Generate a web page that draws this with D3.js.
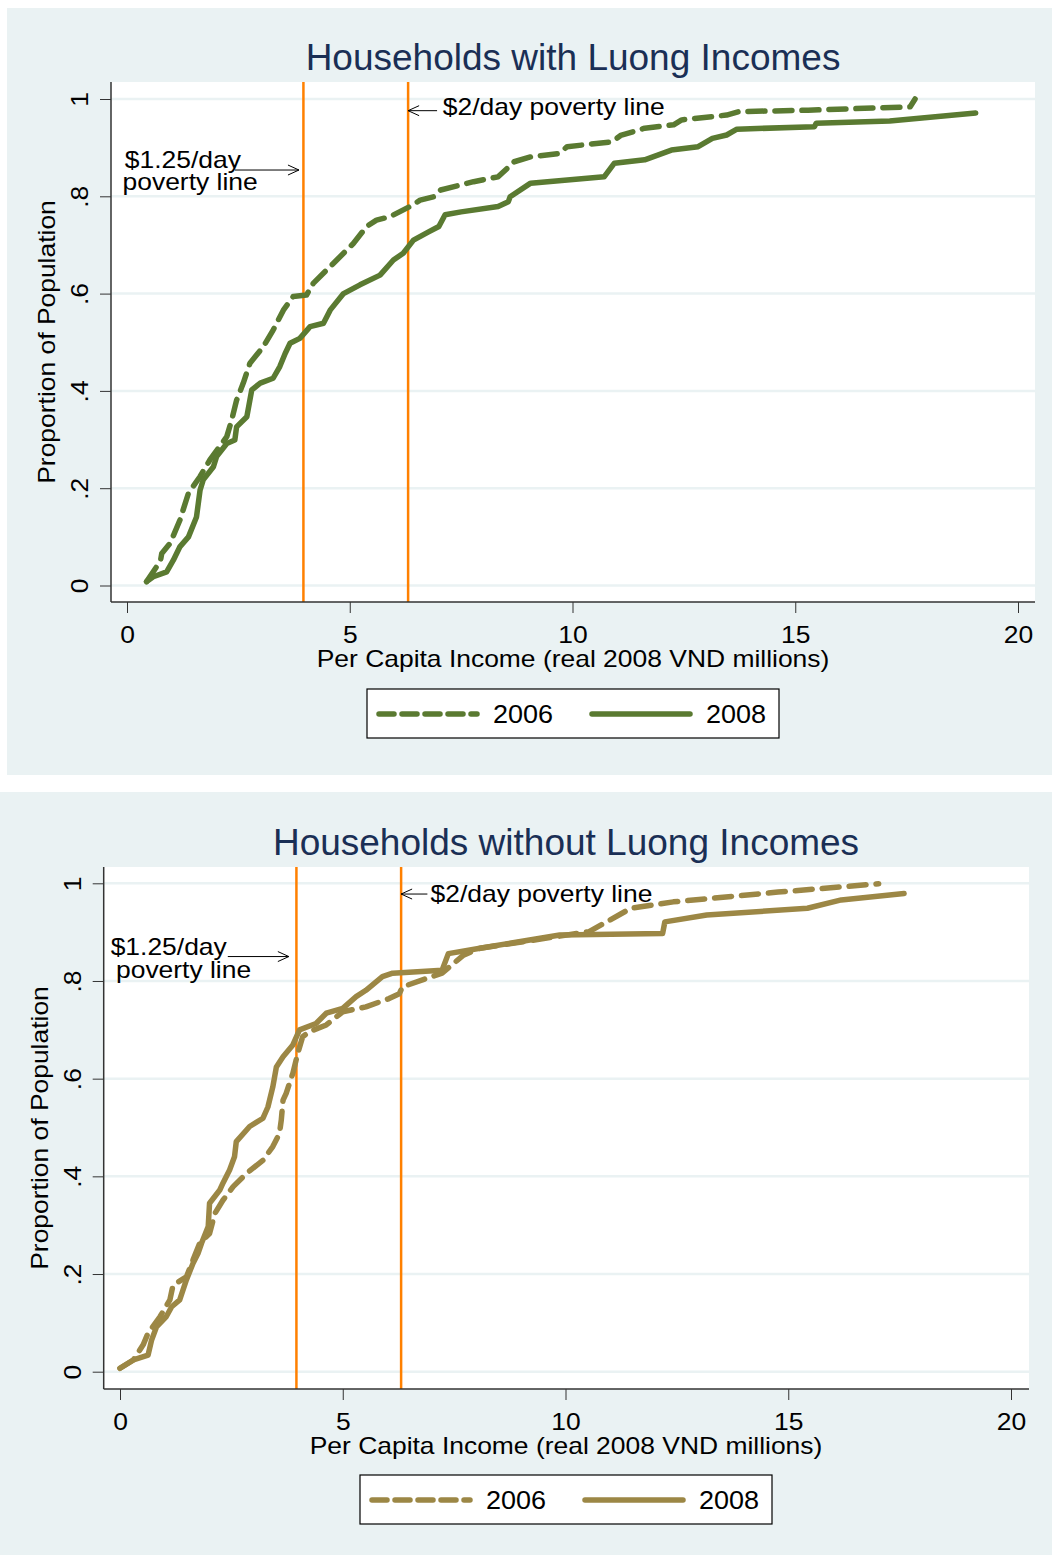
<!DOCTYPE html>
<html>
<head>
<meta charset="utf-8">
<script src="https://cdn.jsdelivr.net/npm/d3@7"></script>
<style>
  body { margin: 0; background: #ffffff; }
  svg { display: block; font-family: "Liberation Sans", Arial, sans-serif; }
</style>
</head>
<body>
<svg id="chart" width="1052" height="1555"></svg>
<script>
// ---- data ----
let xTicks = [0, 5, 10, 15, 20];
let yTicks = [0, 0.2, 0.4, 0.6, 0.8, 1];
let yTickLabels = ["0", ".2", ".4", ".6", ".8", "1"];
let povertyLines = [3.96, 6.31];
let seriesNames = ["2006", "2008"];

// households with Luong incomes
let luong2006 = [[0.44,0.008],[0.60,0.03],[0.75,0.05],[0.78,0.066],[0.97,0.087],[1.19,0.135],[1.38,0.19],[1.64,0.224],[1.86,0.258],[2.24,0.306],[2.35,0.34],[2.46,0.381],[2.61,0.416],[2.76,0.457],[3.06,0.491],[3.28,0.525],[3.51,0.566],[3.73,0.594],[4.03,0.597],[4.18,0.621],[4.63,0.662],[5.08,0.703],[5.38,0.738],[5.60,0.751],[5.90,0.758],[6.35,0.779],[6.58,0.792],[6.88,0.799],[7.04,0.813],[7.78,0.83],[8.33,0.84],[8.69,0.871],[9.06,0.881],[9.70,0.888],[9.88,0.902],[10.89,0.912],[11.08,0.925],[11.62,0.94],[12.27,0.947],[12.45,0.957],[13.46,0.967],[13.73,0.974],[15.29,0.977],[17.58,0.984],[17.69,1.0]];
let luong2008 = [[0.44,0.008],[0.59,0.018],[0.89,0.028],[1.04,0.052],[1.19,0.08],[1.38,0.10],[1.56,0.141],[1.64,0.196],[1.71,0.217],[1.94,0.244],[2.01,0.265],[2.24,0.292],[2.42,0.299],[2.46,0.326],[2.69,0.347],[2.80,0.402],[2.99,0.416],[3.28,0.426],[3.43,0.45],[3.55,0.477],[3.66,0.498],[3.88,0.508],[4.11,0.532],[4.41,0.539],[4.56,0.566],[4.86,0.60],[5.23,0.618],[5.68,0.638],[5.98,0.669],[6.20,0.683],[6.43,0.71],[6.77,0.727],[7.0,0.738],[7.14,0.762],[7.50,0.768],[8.33,0.779],[8.56,0.789],[8.60,0.799],[9.06,0.827],[10.71,0.84],[10.94,0.868],[11.62,0.875],[12.22,0.895],[12.82,0.902],[13.14,0.919],[13.46,0.926],[13.69,0.938],[15.43,0.943],[15.47,0.95],[17.12,0.955],[19.05,0.971]];

// households without Luong incomes
let noLuong2006 = [[0.0,0.007],[0.30,0.024],[0.52,0.055],[0.63,0.079],[0.90,0.113],[1.12,0.147],[1.19,0.177],[1.49,0.194],[1.64,0.229],[1.79,0.263],[2.01,0.283],[2.13,0.324],[2.31,0.351],[2.54,0.379],[2.84,0.406],[3.21,0.433],[3.43,0.461],[3.58,0.488],[3.62,0.515],[3.66,0.556],[3.73,0.57],[3.88,0.611],[3.99,0.652],[4.10,0.686],[4.25,0.696],[4.63,0.71],[5.0,0.737],[5.52,0.747],[6.04,0.764],[6.27,0.774],[6.34,0.788],[7.23,0.816],[7.71,0.853],[8.08,0.867],[10.53,0.901],[11.47,0.949],[12.42,0.962],[14.77,0.982],[17.03,0.999]];
let noLuong2008 = [[0.0,0.007],[0.30,0.024],[0.63,0.034],[0.71,0.065],[0.82,0.092],[1.04,0.113],[1.16,0.133],[1.34,0.147],[1.49,0.188],[1.64,0.222],[1.75,0.242],[1.83,0.263],[1.98,0.297],[2.01,0.345],[2.24,0.372],[2.31,0.386],[2.46,0.413],[2.57,0.44],[2.61,0.471],[2.91,0.502],[3.21,0.519],[3.32,0.542],[3.43,0.583],[3.51,0.624],[3.66,0.645],[3.88,0.669],[4.03,0.70],[4.40,0.713],[4.63,0.734],[5.0,0.744],[5.30,0.768],[5.52,0.781],[5.89,0.809],[6.12,0.816],[7.23,0.822],[7.37,0.856],[8.08,0.867],[9.87,0.894],[12.18,0.897],[12.23,0.921],[13.17,0.935],[15.43,0.949],[16.19,0.966],[17.6,0.979]];

// ---- layout ----
const BG = "#eaf2f3", GRID = "#eaf2f3", ORANGE = "#ff8000", TITLE = "#1a2f55", AXIS = "#333";
const STRETCH = 1.15;

let panels = [
  { title: "Households with Luong Incomes", color: "#5a7a31", data: [luong2006, luong2008],
    bg: [7, 8, 1045, 767], left: 111, right: 1035, top: 82, bottom: 602,
    xRange: [127, 1018], yRange: [585.5, 99], titleX: 573, legend: [367, 689],
    note125: [-0.05, -0.1, 0.858, 0.813], arrow125: [2.42, 3.86, 0.854],
    arrow2: [6.96, 0.976], note2: [7.09, 0.967] },
  { title: "Households without Luong Incomes", color: "#9c8745", data: [noLuong2006, noLuong2008],
    bg: [0, 792, 1052, 763], left: 103.7, right: 1029, top: 867, bottom: 1389,
    xRange: [120, 1011], yRange: [1371.7, 883.3], titleX: 566, legend: [360, 1475],
    note125: [-0.21, -0.09, 0.853, 0.806], arrow125: [2.42, 3.79, 0.85],
    arrow2: [6.9, 0.978], note2: [6.97, 0.962] }
];

const svg = d3.select("#chart");

function addText(g, str, x, y, size, opts) {
  opts = opts || {};
  return g.append("text")
    .attr("transform", "translate(" + x + "," + y + ") rotate(" + (opts.rot || 0) + ") scale(" + (opts.sx || 1) + ",1)")
    .attr("text-anchor", opts.anchor || "start")
    .style("font-size", size + "px")
    .attr("fill", opts.fill || "#000")
    .text(str);
}

function openArrow(g, x1, x2, y) {
  // line with an open "V" head at x2
  let dir = x2 > x1 ? 1 : -1;
  g.append("line").attr("x1", x1).attr("x2", x2).attr("y1", y).attr("y2", y)
    .attr("stroke", "#000").attr("stroke-width", 1);
  g.append("path")
    .attr("d", "M" + (x2 - dir * 11) + "," + (y - 5) + "L" + x2 + "," + y + "L" + (x2 - dir * 11) + "," + (y + 5))
    .attr("fill", "none").attr("stroke", "#000").attr("stroke-width", 1);
}

function drawPanel(p) {
  let g = svg.append("g");
  g.append("rect").attr("x", p.bg[0]).attr("y", p.bg[1]).attr("width", p.bg[2]).attr("height", p.bg[3]).attr("fill", BG);
  g.append("rect").attr("x", p.left).attr("y", p.top).attr("width", p.right - p.left).attr("height", p.bottom - p.top).attr("fill", "#fff");

  let xScale = d3.scaleLinear().domain([0, 20]).range(p.xRange);
  let yScale = d3.scaleLinear().domain([0, 1]).range(p.yRange);

  // gridlines
  g.selectAll(".grid").data(yTicks).enter().append("line")
    .attr("x1", p.left).attr("x2", p.right)
    .attr("y1", d => yScale(d)).attr("y2", d => yScale(d))
    .attr("stroke", GRID).attr("stroke-width", 2.5);

  // poverty lines
  g.selectAll(".pov").data(povertyLines).enter().append("line")
    .attr("x1", d => xScale(d)).attr("x2", d => xScale(d))
    .attr("y1", p.top).attr("y2", p.bottom)
    .attr("stroke", ORANGE).attr("stroke-width", 2.5);

  // series
  let line = d3.line().x(d => xScale(d[0])).y(d => yScale(d[1]));
  p.data.forEach((series, i) => {
    g.append("path")
      .attr("d", line(series))
      .attr("fill", "none")
      .attr("stroke", p.color)
      .attr("stroke-width", 5.5)
      .attr("stroke-linecap", "round")
      .attr("stroke-linejoin", "round")
      .attr("stroke-dasharray", i === 0 ? "17,10" : null);
  });

  // axes
  let xAxis = g.append("g").attr("transform", "translate(0," + p.bottom + ")")
    .call(d3.axisBottom(xScale).tickValues(xTicks).tickSize(11).tickSizeOuter(0));
  xAxis.select(".domain").remove();
  xAxis.selectAll(".tick line").attr("stroke", AXIS);
  xAxis.selectAll(".tick text")
    .attr("y", 0).attr("dy", 0)
    .attr("transform", "translate(0,41) scale(" + STRETCH + ",1)")
    .style("font-size", "23px").style("font-family", "Liberation Sans, Arial, sans-serif").attr("fill", "#000");

  let yAxis = g.append("g").attr("transform", "translate(" + p.left + ",0)")
    .call(d3.axisLeft(yScale).tickValues(yTicks).tickFormat((d, i) => yTickLabels[i]).tickSize(11).tickSizeOuter(0));
  yAxis.select(".domain").remove();
  yAxis.selectAll(".tick line").attr("stroke", AXIS);
  yAxis.selectAll(".tick text")
    .attr("x", 0).attr("y", 0).attr("dy", 0)
    .attr("text-anchor", "middle")
    .attr("transform", "translate(-23,0) rotate(-90) scale(" + STRETCH + ",1)")
    .style("font-size", "23px").style("font-family", "Liberation Sans, Arial, sans-serif").attr("fill", "#000");

  g.append("line").attr("x1", p.left).attr("x2", p.left).attr("y1", p.top).attr("y2", p.bottom).attr("stroke", AXIS).attr("stroke-width", 1.5);
  g.append("line").attr("x1", p.left).attr("x2", p.right).attr("y1", p.bottom).attr("y2", p.bottom).attr("stroke", AXIS).attr("stroke-width", 1.5);

  // titles
  addText(g, p.title, p.titleX, p.top - 12, 37, { anchor: "middle", fill: TITLE });
  addText(g, "Per Capita Income (real 2008 VND millions)", p.titleX, p.bottom + 65, 23, { anchor: "middle", sx: STRETCH });
  addText(g, "Proportion of Population", p.left - 56, (p.top + p.bottom) / 2, 23, { anchor: "middle", rot: -90, sx: STRETCH });

  // annotations
  addText(g, "$1.25/day", xScale(p.note125[0]), yScale(p.note125[2]), 23, { sx: STRETCH });
  addText(g, "poverty line", xScale(p.note125[1]), yScale(p.note125[3]), 23, { sx: STRETCH });
  openArrow(g, xScale(p.arrow125[0]), xScale(p.arrow125[1]), yScale(p.arrow125[2]));
  openArrow(g, xScale(p.arrow2[0]), xScale(povertyLines[1]), yScale(p.arrow2[1]));
  addText(g, "$2/day poverty line", xScale(p.note2[0]), yScale(p.note2[1]), 23, { sx: STRETCH });

  // legend
  let lg = g.append("g").attr("transform", "translate(" + p.legend[0] + "," + p.legend[1] + ")");
  lg.append("rect").attr("width", 412).attr("height", 49).attr("fill", "#fff").attr("stroke", "#000").attr("stroke-width", 1.2);
  seriesNames.forEach((name, i) => {
    let x0 = 12 + i * 213;
    lg.append("line").attr("x1", x0).attr("x2", x0 + 98).attr("y1", 25).attr("y2", 25)
      .attr("stroke", p.color).attr("stroke-width", 5.5).attr("stroke-linecap", "round")
      .attr("stroke-dasharray", i === 0 ? "15,8" : null);
    addText(lg, name, x0 + 114, 34, 25, { sx: 1.08 });
  });
}

panels.forEach(drawPanel);
</script>
</body>
</html>
